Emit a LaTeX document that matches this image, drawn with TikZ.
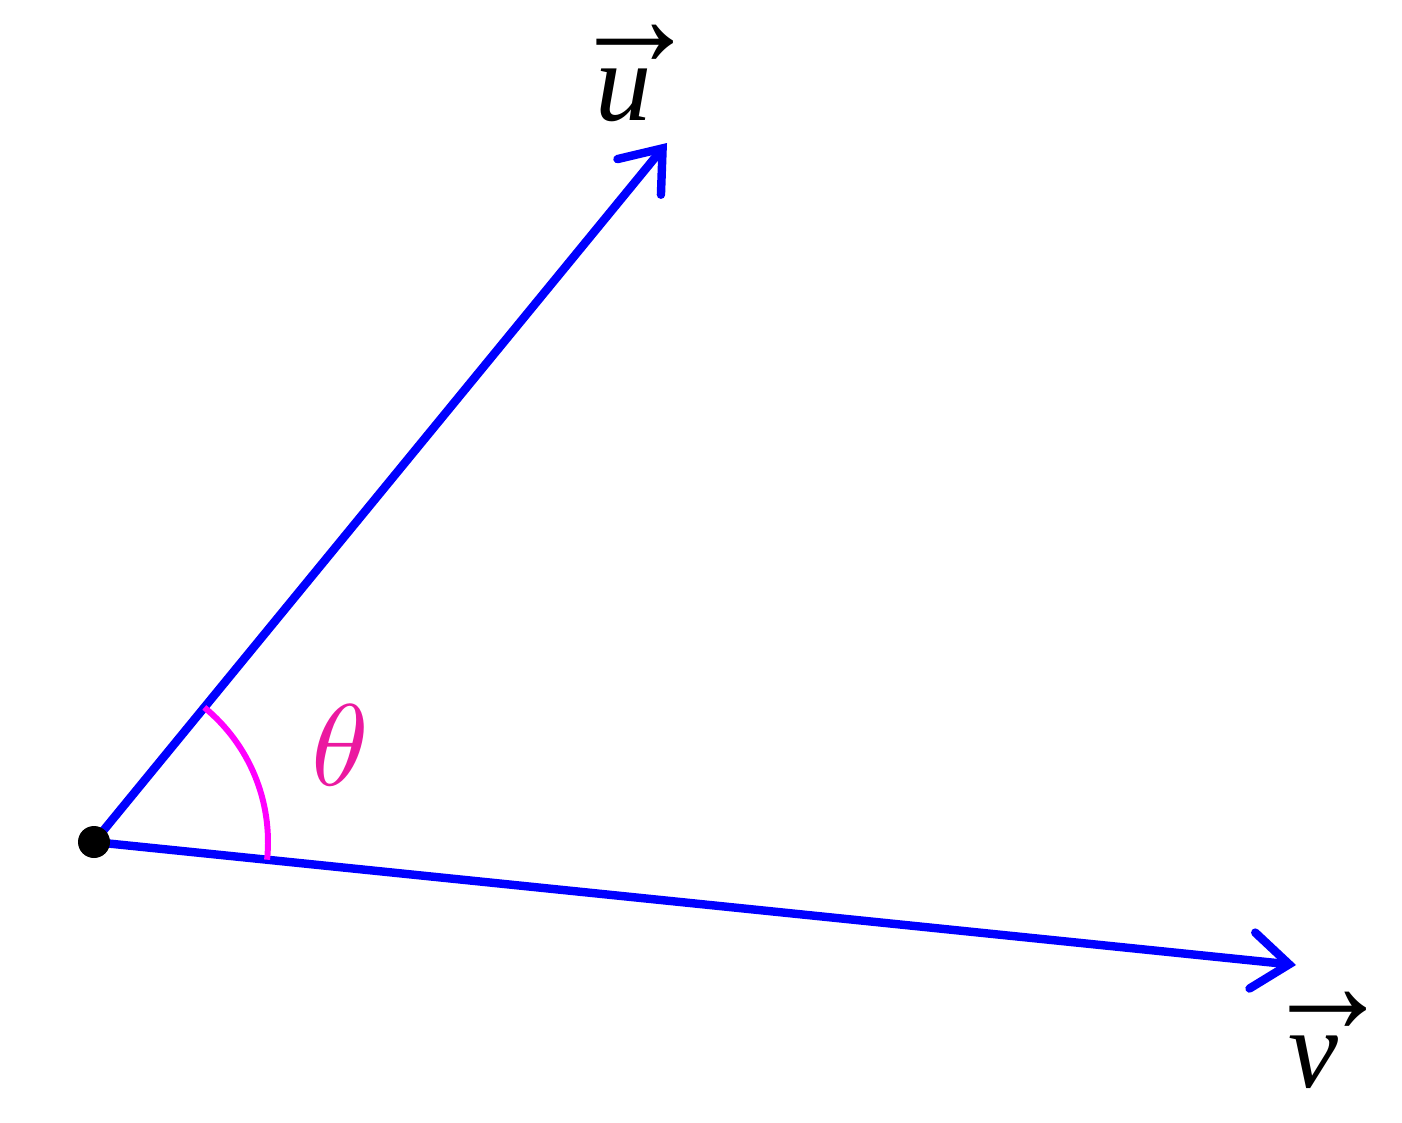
\documentclass[tikz,border=0pt]{standalone}
\usepackage{graphicx}
\usepackage{fontspec}
\newfontfamily\timesfont{Liberation Serif}
\usetikzlibrary{arrows.meta}
\definecolor{vecblue}{RGB}{0,0,255}
\definecolor{arcmag}{RGB}{255,0,255}
\definecolor{thetacol}{RGB}{235,25,160}
\newcommand{\biglab}[1]{\scalebox{6.6}{#1}}
\newcommand{\vecname}[1]{\scalebox{6.4}{\vbox{\offinterlineskip\hbox{\kern-2.1pt\scalebox{1.15}[1.3]{\timesfont →}}\kern0.2pt\hbox{\kern0.1pt\timesfont\itshape #1}}}}
\begin{document}
\begin{tikzpicture}[x=0.02cm,y=-0.02cm,
  vecline/.style={draw=vecblue,line width=4.8pt,line cap=round,
    -{Straight Barb[length=21pt,width=32pt,line cap=round]}},
  biglabel/.style={inner sep=0pt},
  veclabel/.style={inner sep=0pt,anchor=base west},
  anglearc/.style={draw=arcmag,line width=3.4pt}]
\useasboundingbox (0,0) rectangle (1402,1122);
\coordinate (O) at (94,842);
\coordinate (U) at (667,143);
\coordinate (V) at (1296,965);
\draw[vecline] (O) -- (U);
\draw[vecline] (O) -- (V);
\draw[anglearc] ([shift={(-50.66:174)}]O) arc[start angle=-50.66,end angle=5.84,radius=174];
\fill[black] (O) circle[radius=16];
\node[veclabel] (lu) at (594,120) {\vecname{u}};
\node[veclabel] (lv) at (1287,1087) {\vecname{v}};
\node[biglabel,text=thetacol] (th) at (340,745) {\biglab{$\theta$}};
\end{tikzpicture}
\end{document}
